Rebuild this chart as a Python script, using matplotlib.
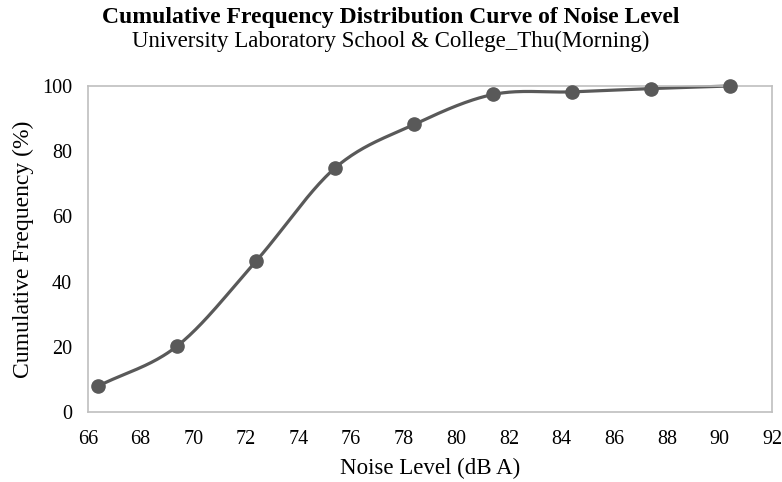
import numpy as np
import matplotlib
matplotlib.use("Agg")
import matplotlib.pyplot as plt

plt.rcParams['font.family'] = ['Liberation Serif', 'DejaVu Serif']

# noise level (dB A) and cumulative frequency (%)
noise_level = [66.4, 69.4, 72.4, 75.4, 78.4, 81.4, 84.4, 87.4, 90.4]
cum_freq = [8.0, 20.3, 46.4, 74.9, 88.2, 97.4, 98.2, 99.2, 100.0]
x_ticks = list(range(66, 93, 2))
y_ticks = list(range(0, 101, 20))

line_color = '#595959'
spine_color = '#bfbfbf'


def smooth(xs, ys, n=40):
    # Catmull-Rom style smoothing like excel's "smoothed line"
    xs = np.asarray(xs, float)
    ys = np.asarray(ys, float)
    px = np.concatenate([[2 * xs[0] - xs[1]], xs, [2 * xs[-1] - xs[-2]]])
    py = np.concatenate([[2 * ys[0] - ys[1]], ys, [2 * ys[-1] - ys[-2]]])
    outx, outy = [], []
    t = np.linspace(0, 1, n)
    for i in range(1, len(px) - 2):
        x0, x1, x2, x3 = px[i - 1:i + 3]
        y0, y1, y2, y3 = py[i - 1:i + 3]
        # bezier control points
        cx1, cy1 = x1 + (x2 - x0) / 6, y1 + (y2 - y0) / 6
        cx2, cy2 = x2 - (x3 - x1) / 6, y2 - (y3 - y1) / 6
        bx = (1 - t) ** 3 * x1 + 3 * (1 - t) ** 2 * t * cx1 + 3 * (1 - t) * t ** 2 * cx2 + t ** 3 * x2
        by = (1 - t) ** 3 * y1 + 3 * (1 - t) ** 2 * t * cy1 + 3 * (1 - t) * t ** 2 * cy2 + t ** 3 * y2
        outx.extend(bx)
        outy.extend(by)
    return np.array(outx), np.array(outy)


fig = plt.figure(figsize=(7.82, 4.82), dpi=100)
ax = fig.add_axes([0.1125, 0.1452, 0.8747, 0.6764])

sx, sy = smooth(noise_level, cum_freq)
ax.plot(sx, sy, color=line_color, lw=2.3, solid_capstyle='round', zorder=2, clip_on=False)
ax.plot(noise_level, cum_freq, 'o', color=line_color, ms=9.5, zorder=3, clip_on=False)

ax.set_xlim(66, 92)
ax.set_ylim(0, 100)
ax.set_xticks(x_ticks)
ax.set_yticks(y_ticks)
ax.tick_params(length=0, labelsize=14.5)
ax.tick_params(axis='x', pad=13)
ax.tick_params(axis='y', pad=11.5)
for s in ax.spines.values():
    s.set_color(spine_color)
    s.set_linewidth(1.2)

ax.set_xlabel('Noise Level (dB A)', fontsize=16.5, labelpad=6)
ax.set_ylabel('Cumulative Frequency (%)', fontsize=17, labelpad=6)

fig.text(0.5, 0.9523, 'Cumulative Frequency Distribution Curve of Noise Level',
         ha='center', va='baseline', fontsize=17, fontweight='bold')
fig.text(0.5, 0.9025, 'University Laboratory School & College_Thu(Morning)',
         ha='center', va='baseline', fontsize=16.5)

fig.savefig('out.png', dpi=100)
